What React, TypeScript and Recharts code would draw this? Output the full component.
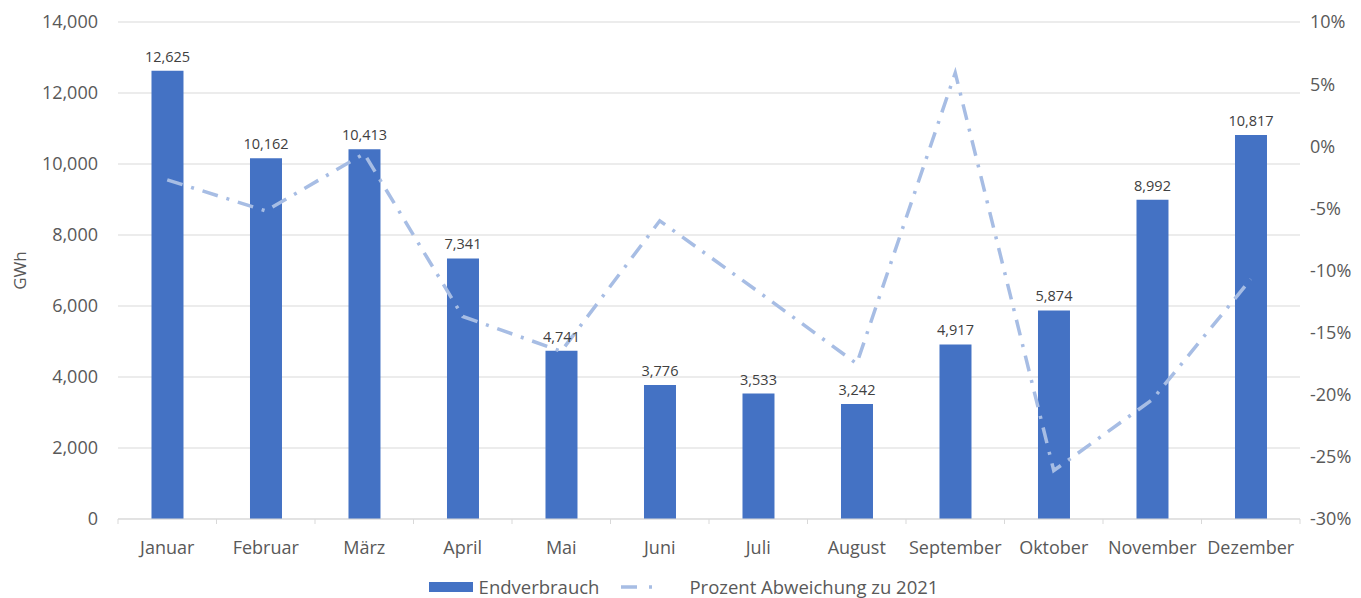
import { ComposedChart, Bar, Line, XAxis, YAxis, CartesianGrid, LabelList, Legend } from "recharts";

const months = ["Januar", "Februar", "März", "April", "Mai", "Juni", "Juli", "August", "September", "Oktober", "November", "Dezember"];
const endverbrauch = [12625, 10162, 10413, 7341, 4741, 3776, 3533, 3242, 4917, 5874, 8992, 10817];
const abweichung = [-2.7, -5.2, -0.6, -13.7, -16.5, -6.0, -11.7, -17.5, 5.9, -26.1, -20.4, -10.7];
const leftTicks = [0, 2000, 4000, 6000, 8000, 10000, 12000, 14000];
const rightTicks = [-30, -25, -20, -15, -10, -5, 0, 5, 10];

const BAR_COLOR = "#4472c4";
const LINE_COLOR = "#a7bde4";
const TEXT_COLOR = "#595959";
const GRID_COLOR = "#d9d9d9";
const FONT = "'Open Sans', 'Noto Sans', sans-serif";

const WIDTH = 1361;
const HEIGHT = 598;
const LEFT_W = 118;
const RIGHT_W = 61;
const XAXIS_H = 46;
const LEGEND_H = 33;
const AXIS_Y = HEIGHT - XAXIS_H - LEGEND_H;
const BAND = (WIDTH - LEFT_W - RIGHT_W) / months.length;

const formatThousands = (v: number) => v.toLocaleString("en-US");

// category label plus Excel-style boundary tick marks
const MonthTick = (props: any) => {
  const { x, y, payload, index } = props;
  const left = x - BAND / 2;
  return (
    <g>
      <line x1={left} y1={AXIS_Y} x2={left} y2={AXIS_Y + 5} stroke={GRID_COLOR} />
      {index === months.length - 1 && (
        <line x1={x + BAND / 2} y1={AXIS_Y} x2={x + BAND / 2} y2={AXIS_Y + 5} stroke={GRID_COLOR} />
      )}
      <text x={x} y={y} dy="0.71em" textAnchor="middle" fill={TEXT_COLOR} fontSize={18} fontFamily={FONT}>
        {payload.value}
      </text>
    </g>
  );
};

const LegendContent = () => (
  <div style={{ display: "flex", justifyContent: "center", alignItems: "center", fontFamily: FONT, fontSize: 18.5, color: TEXT_COLOR, paddingTop: 9, paddingLeft: 6 }}>
    <svg width={44} height={12} style={{ marginRight: 6 }}>
      <rect x={0} y={1} width={44} height={10} fill={BAR_COLOR} />
    </svg>
    <span style={{ marginRight: 22 }}>Endverbrauch</span>
    <svg width={44} height={12} style={{ marginRight: 24 }}>
      <line x1={0} y1={6} x2={44} y2={6} stroke={LINE_COLOR} strokeWidth={3.5} strokeDasharray="16 12 3 20" />
    </svg>
    <span>Prozent Abweichung zu 2021</span>
  </div>
);

export default function App() {
  const data = months.map((m, i) => ({
    month: m,
    endverbrauch: endverbrauch[i],
    abweichung: abweichung[i],
  }));

  return (
    <div style={{ position: "absolute", left: 0, top: 0, background: "#fff" }}>
      <ComposedChart
        width={WIDTH}
        height={HEIGHT}
        data={data}
        margin={{ top: 22, right: 0, left: 0, bottom: 0 }}
        barCategoryGap="34%"
      >
        <CartesianGrid vertical={false} stroke={GRID_COLOR} yAxisId="left" />
        <XAxis
          dataKey="month"
          axisLine={{ stroke: GRID_COLOR }}
          tickLine={false}
          tickMargin={16}
          height={XAXIS_H}
          interval={0}
          tick={<MonthTick />}
        />
        <YAxis
          yAxisId="left"
          domain={[0, 14000]}
          ticks={leftTicks}
          tickFormatter={formatThousands}
          axisLine={false}
          tickLine={false}
          tickSize={8}
          tickMargin={12}
          width={LEFT_W}
          tick={{ fill: TEXT_COLOR, fontSize: 18, fontFamily: FONT }}
          label={{ value: "GWh", angle: -90, position: "insideLeft", offset: 20, style: { fill: TEXT_COLOR, fontSize: 17, fontFamily: FONT, textAnchor: "middle" } }}
        />
        <YAxis
          yAxisId="right"
          orientation="right"
          domain={[-30, 10]}
          ticks={rightTicks}
          tickFormatter={(v: number) => `${v}%`}
          axisLine={false}
          tickLine={false}
          tickSize={6}
          tickMargin={4}
          width={RIGHT_W}
          tick={{ fill: TEXT_COLOR, fontSize: 18, fontFamily: FONT, textAnchor: "start" }}
        />
        <Legend verticalAlign="bottom" height={LEGEND_H} content={<LegendContent />} />
        <Bar yAxisId="left" dataKey="endverbrauch" name="Endverbrauch" fill={BAR_COLOR} isAnimationActive={false}>
          <LabelList
            dataKey="endverbrauch"
            position="top"
            offset={9}
            formatter={(v: number) => formatThousands(Number(v))}
            style={{ fill: "#404040", fontSize: 14.5, fontFamily: FONT }}
          />
        </Bar>
        <Line
          yAxisId="right"
          dataKey="abweichung"
          name="Prozent Abweichung zu 2021"
          stroke={LINE_COLOR}
          strokeWidth={3.5}
          strokeDasharray="16 9 3 9"
          dot={false}
          activeDot={false}
          type="linear"
          isAnimationActive={false}
        />
      </ComposedChart>
    </div>
  );
}
